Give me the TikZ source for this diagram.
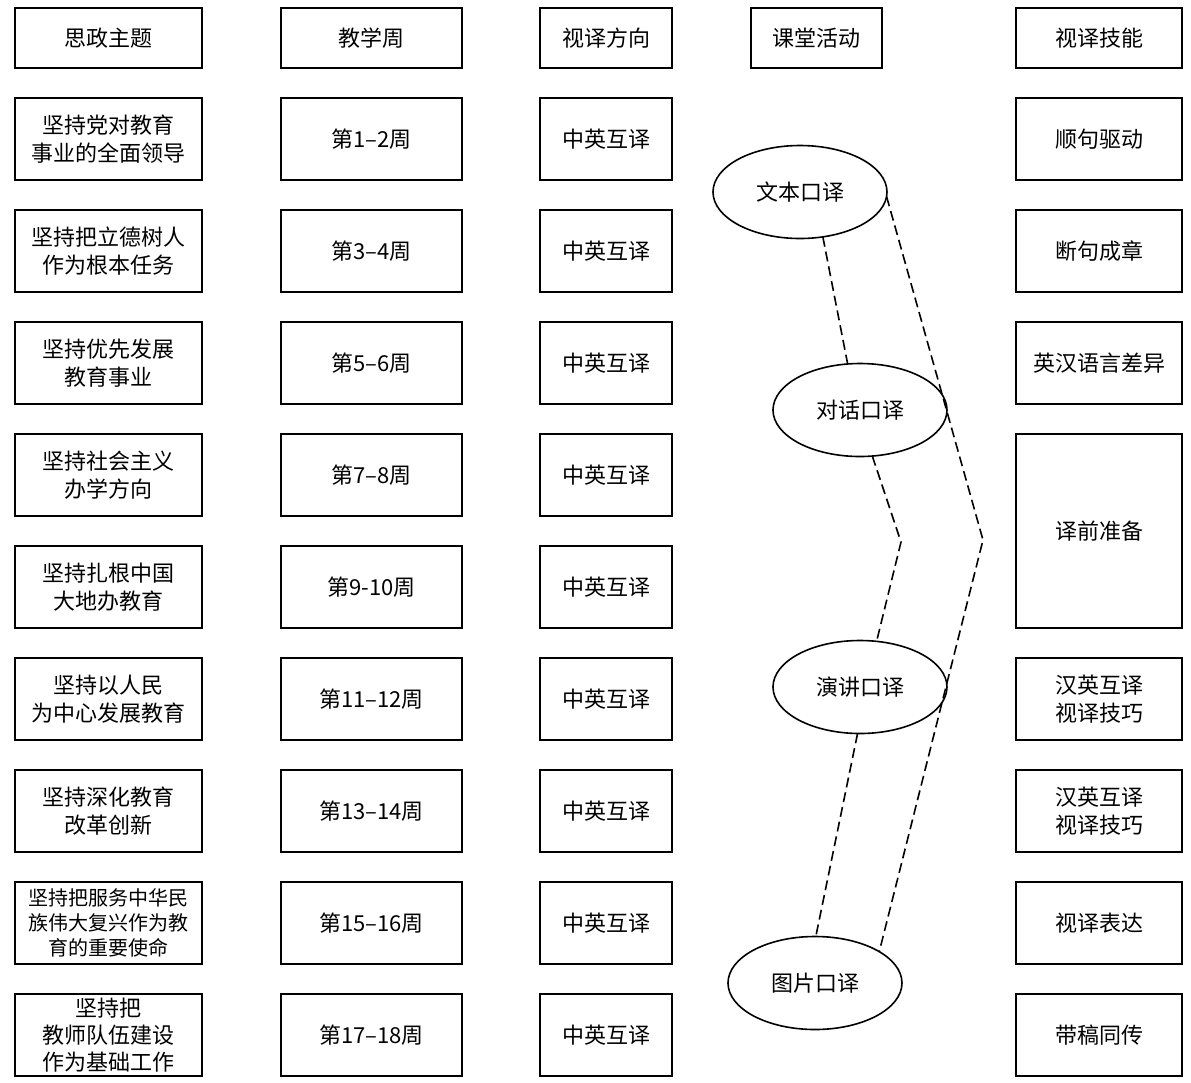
\documentclass[tikz,border=0pt]{standalone}
\usepackage{fontspec}
\setmainfont{Noto Sans CJK SC}
\usetikzlibrary{positioning,shapes.geometric}
\tikzset{
    %Define style for boxes
    kasten/.style={
           rectangle,
           draw=black,
           line width=0.8pt,
           inner sep=0pt,
           outer sep=0pt,
           minimum height=41pt,
           align=center},
    %Define style for the header boxes
    kopf/.style={
           kasten,
           minimum height=30pt},
    %Define style for ellipses
    oval/.style={
           ellipse,
           draw=black,
           line width=0.8pt,
           inner sep=0pt,
           outer sep=0pt,
           minimum width=87pt,
           minimum height=46.5pt},
    % Define dashed line style
    strich/.style={
           line width=0.8pt,
           dash pattern=on 5pt off 2.5pt}
}
\begin{document}
\begin{tikzpicture}[x=0.5pt,y=-0.5pt,node distance=15pt,
    font=\fontsize{11pt}{14pt}\selectfont]
  \useasboundingbox (0,0) rectangle (1191,1083);
  % header row
  \node[kopf,minimum width=93.5pt] (thema) at (108.5,38) {思政主题};
  \node[kopf,minimum width=90.5pt] (woche) at (371.5,38) {教学周};
  \node[kopf,minimum width=66pt] (richtung) at (606,38) {视译方向};
  \node[kopf,minimum width=65.5pt] (aktiv) at (816.5,38) {课堂活动};
  \node[kopf,minimum width=83pt] (technik) at (1099,38) {视译技能};
  % first column
  \node[kasten,minimum width=93.5pt,below=of thema] (t1) {坚持党对教育\\事业的全面领导};
  \node[kasten,minimum width=93.5pt,below=of t1] (t2) {坚持把立德树人\\作为根本任务};
  \node[kasten,minimum width=93.5pt,below=of t2] (t3) {坚持优先发展\\教育事业};
  \node[kasten,minimum width=93.5pt,below=of t3] (t4) {坚持社会主义\\办学方向};
  \node[kasten,minimum width=93.5pt,below=of t4] (t5) {坚持扎根中国\\大地办教育};
  \node[kasten,minimum width=93.5pt,below=of t5] (t6) {坚持以人民\\为中心发展教育};
  \node[kasten,minimum width=93.5pt,below=of t6] (t7) {坚持深化教育\\改革创新};
  \node[kasten,minimum width=93.5pt,below=of t7,font=\fontsize{10pt}{12.5pt}\selectfont] (t8)
    {坚持把服务中华民\\族伟大复兴作为教\\育的重要使命};
  \node[kasten,minimum width=93.5pt,below=of t8,font=\fontsize{11pt}{13.5pt}\selectfont] (t9)
    {坚持把\\教师队伍建设\\作为基础工作};
  % second column
  \node[kasten,minimum width=90.5pt,below=of woche] (w1) {第1–2周};
  \node[kasten,minimum width=90.5pt,below=of w1] (w2) {第3–4周};
  \node[kasten,minimum width=90.5pt,below=of w2] (w3) {第5–6周};
  \node[kasten,minimum width=90.5pt,below=of w3] (w4) {第7–8周};
  \node[kasten,minimum width=90.5pt,below=of w4] (w5) {第9-10周};
  \node[kasten,minimum width=90.5pt,below=of w5] (w6) {第11–12周};
  \node[kasten,minimum width=90.5pt,below=of w6] (w7) {第13–14周};
  \node[kasten,minimum width=90.5pt,below=of w7] (w8) {第15–16周};
  \node[kasten,minimum width=90.5pt,below=of w8] (w9) {第17–18周};
  % third column
  \node[kasten,minimum width=66pt,below=of richtung] (r1) {中英互译};
  \node[kasten,minimum width=66pt,below=of r1] (r2) {中英互译};
  \node[kasten,minimum width=66pt,below=of r2] (r3) {中英互译};
  \node[kasten,minimum width=66pt,below=of r3] (r4) {中英互译};
  \node[kasten,minimum width=66pt,below=of r4] (r5) {中英互译};
  \node[kasten,minimum width=66pt,below=of r5] (r6) {中英互译};
  \node[kasten,minimum width=66pt,below=of r6] (r7) {中英互译};
  \node[kasten,minimum width=66pt,below=of r7] (r8) {中英互译};
  \node[kasten,minimum width=66pt,below=of r8] (r9) {中英互译};
  % last column
  \node[kasten,minimum width=83pt,below=of technik] (k1) {顺句驱动};
  \node[kasten,minimum width=83pt,below=of k1] (k2) {断句成章};
  \node[kasten,minimum width=83pt,below=of k2] (k3) {英汉语言差异};
  \node[kasten,minimum width=83pt,minimum height=97pt,below=of k3] (k4) {译前准备};
  \node[kasten,minimum width=83pt,below=of k4] (k5) {汉英互译\\视译技巧};
  \node[kasten,minimum width=83pt,below=of k5] (k6) {汉英互译\\视译技巧};
  \node[kasten,minimum width=83pt,below=of k6] (k7) {视译表达};
  \node[kasten,minimum width=83pt,below=of k7] (k8) {带稿同传};
  % classroom activities
  \node[oval] (wenben) at (800,192) {文本口译};
  \node[oval] (duihua) at (860,410) {对话口译};
  \node[oval] (yanjiang) at (860,687) {演讲口译};
  \node[oval] (tupian) at (815,983) {图片口译};
  \coordinate (knick1) at (901,542);
  \coordinate (knick2) at (983,540);
  \draw[strich] (wenben.-63) -- (duihua.105);
  \draw[strich] (duihua.-75) -- (knick1) -- (yanjiang.70);
  \draw[strich] (yanjiang.-93) -- (tupian.89);
  \draw[strich] (wenben.-3) -- (knick2) -- (tupian.26);
\end{tikzpicture}
\end{document}
